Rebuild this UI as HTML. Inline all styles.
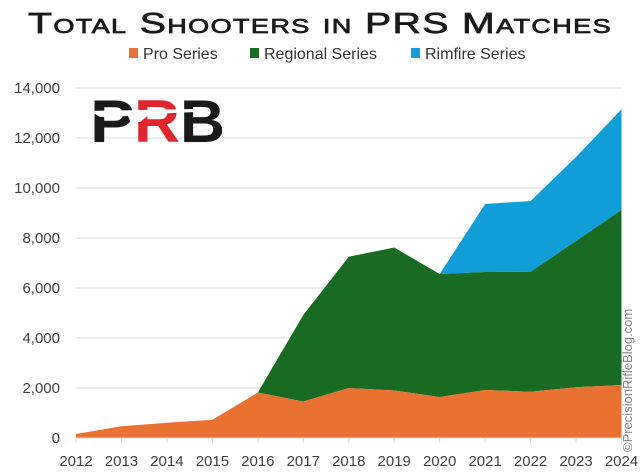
<!DOCTYPE html>
<html><head><meta charset="utf-8"><style>
html,body{margin:0;padding:0;background:#fff;}
svg{display:block;font-family:"Liberation Sans",sans-serif;}
</style></head><body>
<svg id="chart" width="640" height="474" viewBox="0 0 640 474" xmlns="http://www.w3.org/2000/svg">
<text x="28" y="33" textLength="584" lengthAdjust="spacingAndGlyphs" font-size="29" font-weight="normal" fill="#1a1a1a" stroke="#1a1a1a" stroke-width="0.7" style="font-variant:small-caps;letter-spacing:1px">Total Shooters in PRS Matches</text>
<g font-size="16" fill="#333">
<rect x="129" y="48" width="9" height="10" fill="#E97132"/>
<text x="143" y="59">Pro Series</text>
<rect x="250" y="48" width="9" height="10" fill="#196B24"/>
<text x="264" y="59">Regional Series</text>
<rect x="411" y="48" width="9" height="10" fill="#0F9ED5"/>
<text x="425" y="59">Rimfire Series</text>
</g>
<g id="grid"></g>
<g id="areas"></g>
<g id="axes"></g>
<g font-weight="bold" font-size="60">
<text x="90" y="142" fill="#1a1a1a" textLength="45" lengthAdjust="spacingAndGlyphs">P</text>
<text x="134" y="142" fill="#E0262C" textLength="46" lengthAdjust="spacingAndGlyphs">R</text>
<text x="180" y="142" fill="#1a1a1a" textLength="45" lengthAdjust="spacingAndGlyphs">B</text>
<path d="M86,111 L196,109 L196,112 L150,114 L140,122 L130,121 L128,116 L100,117 L95,114 L86,113 Z" fill="#fff"/>
</g>
<text transform="translate(632,452) rotate(-90)" font-size="13" fill="#888">©PrecisionRifleBlog.com</text>
</svg>
<script>
const years=["2012","2013","2014","2015","2016","2017","2018","2019","2020","2021","2022","2023","2024"];
const pro=[160,470,610,730,1820,1460,2000,1900,1640,1920,1850,2030,2120];
const regional=[0,0,0,0,0,3460,5250,5720,4920,4720,4800,5850,7000];
const rimfire=[0,0,0,0,0,0,0,0,0,2720,2830,3360,4030];
const yTicks=[0,2000,4000,6000,8000,10000,12000,14000];
const yTickLabels=["0","2,000","4,000","6,000","8,000","10,000","12,000","14,000"];
const NS="http://www.w3.org/2000/svg";
const x0=76,x1=621.5,y0=438,pxPer=25/1000;
const X=i=>x0+i*(x1-x0)/(years.length-1);
const Y=v=>y0-v*pxPer;
const grid=document.getElementById('grid'),areas=document.getElementById('areas'),axes=document.getElementById('axes');
yTicks.forEach((t,i)=>{
 if(t>0){const l=document.createElementNS(NS,'line');
 
 
 l.setAttribute('x1',x0);l.setAttribute('x2',x1);l.setAttribute('y1',Y(t));l.setAttribute('y2',Y(t));
 l.setAttribute('stroke','#d9d9d9');l.setAttribute('stroke-width','1');grid.appendChild(l);}
 const tx=document.createElementNS(NS,'text');
 
 
 tx.setAttribute('x',60);tx.setAttribute('y',Y(t)+5);tx.setAttribute('text-anchor','end');
 tx.setAttribute('font-size','15');tx.setAttribute('fill','#404040');tx.textContent=yTickLabels[i];axes.appendChild(tx);
});
const c1=pro, c2=pro.map((v,i)=>v+regional[i]), c3=c2.map((v,i)=>v+rimfire[i]);
function band(lo,hi,color,name){
 let d='M'+X(0)+','+Y(hi[0]);
 for(let i=1;i<hi.length;i++)d+='L'+X(i)+','+Y(hi[i]);
 for(let i=lo.length-1;i>=0;i--)d+='L'+X(i)+','+Y(lo[i]);
 d+='Z';
 const p=document.createElementNS(NS,'path');
 
 
 p.setAttribute('d',d);p.setAttribute('fill',color);areas.appendChild(p);
}
const zeros=years.map(()=>0);
band(c2,c3,'#0F9ED5','rimfire-area');
band(c1,c2,'#196B24','regional-area');
band(zeros,c1,'#E97132','pro-area');
const ax=document.createElementNS(NS,'line');


ax.setAttribute('x1',x0);ax.setAttribute('x2',x1);ax.setAttribute('y1',y0);ax.setAttribute('y2',y0);
ax.setAttribute('stroke','#d9d9d9');axes.appendChild(ax);
years.forEach((yr,i)=>{
 const tk=document.createElementNS(NS,'line');
 
 
 tk.setAttribute('x1',X(i));tk.setAttribute('x2',X(i));tk.setAttribute('y1',y0);tk.setAttribute('y2',y0+5);
 tk.setAttribute('stroke','#d9d9d9');axes.appendChild(tk);
 const tx=document.createElementNS(NS,'text');
 
 
 tx.setAttribute('x',X(i));tx.setAttribute('y',466);tx.setAttribute('text-anchor','middle');
 tx.setAttribute('font-size','15');tx.setAttribute('fill','#404040');tx.textContent=yr;axes.appendChild(tx);
});
</script>
</body></html>
